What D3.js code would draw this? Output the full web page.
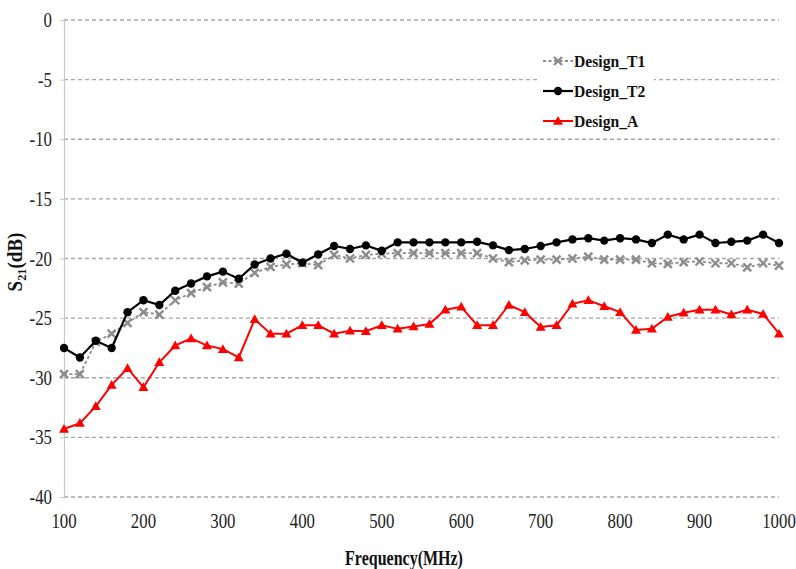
<!DOCTYPE html>
<html>
<head>
<meta charset="utf-8">
<script src="https://cdn.jsdelivr.net/npm/d3@7"></script>
<style>
  html, body { margin: 0; padding: 0; background: #fff; }
  svg { display: block; }
</style>
</head>
<body>
<svg id="chart" width="796" height="569" font-family="'Liberation Serif', 'Times New Roman', 'DejaVu Serif', serif"></svg>
<script>
// Frequency points (MHz)
const freq = [100, 120, 140, 160, 180, 200, 220, 240, 260, 280,
              300, 320, 340, 360, 380, 400, 420, 440, 460, 480,
              500, 520, 540, 560, 580, 600, 620, 640, 660, 680,
              700, 720, 740, 760, 780, 800, 820, 840, 860, 880,
              900, 920, 940, 960, 980, 1000];

// S21 (dB) for each design
const designT1 = [-29.7, -29.7, -27.0, -26.3, -25.4, -24.5, -24.7, -23.5, -22.9, -22.4,
                  -22.0, -22.1, -21.2, -20.7, -20.5, -20.4, -20.55, -19.7, -20.0, -19.7,
                  -19.6, -19.55, -19.55, -19.55, -19.55, -19.55, -19.55, -20.0, -20.3, -20.15,
                  -20.1, -20.1, -20.0, -19.85, -20.1, -20.1, -20.1, -20.4, -20.45, -20.3,
                  -20.25, -20.4, -20.4, -20.75, -20.4, -20.6];
const designT2 = [-27.5, -28.3, -26.9, -27.5, -24.5, -23.5, -23.9, -22.7, -22.1, -21.5,
                  -21.1, -21.7, -20.5, -20.0, -19.6, -20.35, -19.65, -18.95, -19.2, -18.9,
                  -19.35, -18.65, -18.65, -18.65, -18.65, -18.65, -18.6, -18.9, -19.3, -19.2,
                  -18.95, -18.65, -18.4, -18.3, -18.5, -18.3, -18.4, -18.7, -18.0, -18.4,
                  -18.0, -18.7, -18.6, -18.5, -18.0, -18.7];
const designA  = [-34.3, -33.8, -32.4, -30.6, -29.2, -30.8, -28.7, -27.3, -26.7, -27.3,
                  -27.6, -28.3, -25.1, -26.3, -26.3, -25.6, -25.6, -26.3, -26.05, -26.1,
                  -25.6, -25.9, -25.7, -25.5, -24.3, -24.05, -25.6, -25.6, -23.9, -24.5,
                  -25.75, -25.6, -23.8, -23.5, -24.0, -24.5, -26.0, -25.9, -24.9, -24.55,
                  -24.3, -24.3, -24.7, -24.3, -24.65, -26.3];

const seriesNames = ["Design_T1", "Design_T2", "Design_A"];
const xTicks = [100, 200, 300, 400, 500, 600, 700, 800, 900, 1000];
const yTicks = [0, -5, -10, -15, -20, -25, -30, -35, -40];

const svg = d3.select("#chart");

const x = d3.scaleLinear().domain([100, 1000]).range([64, 779]);
const y = d3.scaleLinear().domain([-40, 0]).range([497, 20]);

// Dashed horizontal grid
svg.append("g")
  .selectAll("line")
  .data(yTicks)
  .join("line")
  .attr("x1", x(100)).attr("x2", x(1000))
  .attr("y1", d => y(d)).attr("y2", d => y(d))
  .attr("stroke", "#a6a6a6")
  .attr("stroke-width", 1.3)
  .attr("stroke-dasharray", "4,3");

// Left axis line with small ticks
const yAxis = d3.axisLeft(y).tickValues(yTicks).tickSize(4).tickFormat("");
const yAxisG = svg.append("g").attr("transform", `translate(${x(100)},0)`).call(yAxis);
yAxisG.select(".domain").attr("stroke", "#c8c8c8").attr("stroke-width", 1.2);
yAxisG.selectAll(".tick line").attr("stroke", "#c8c8c8");

// Y tick labels
svg.append("g")
  .selectAll("text")
  .data(yTicks)
  .join("text")
  .attr("transform", d => `translate(52,${y(d) + 7}) scale(0.8,1)`)
  .attr("text-anchor", "end")
  .attr("font-size", 21)
  .attr("fill", "#222")
  .text(d => d);

// X tick labels
svg.append("g")
  .selectAll("text")
  .data(xTicks)
  .join("text")
  .attr("transform", d => `translate(${x(d)},${528}) scale(0.8,1)`)
  .attr("text-anchor", "middle")
  .attr("font-size", 21)
  .attr("fill", "#222")
  .text(d => d);

// Axis titles
svg.append("text")
  .attr("transform", "translate(404,565) scale(0.8,1)")
  .attr("text-anchor", "middle")
  .attr("font-size", 20)
  .attr("font-weight", "bold")
  .attr("fill", "#111")
  .text("Frequency(MHz)");

const yTitle = svg.append("text")
  .attr("transform", "translate(22,262) rotate(-90) scale(0.95,1)")
  .attr("text-anchor", "middle")
  .attr("font-size", 20)
  .attr("font-weight", "bold")
  .attr("fill", "#111");
yTitle.append("tspan").text("S");
yTitle.append("tspan").attr("font-size", 13).attr("dy", 4).text("21");
yTitle.append("tspan").attr("dy", -4).text("(dB)");

const line = d3.line().x((d, i) => x(freq[i])).y(d => y(d));

// Marker drawers
function crossMarker(g, cx, cy, r) {
  g.append("path")
    .attr("d", `M${cx - r},${cy - r}L${cx + r},${cy + r}M${cx - r},${cy + r}L${cx + r},${cy - r}`)
    .attr("stroke", "#8c8c8c").attr("stroke-width", 2.4).attr("fill", "none");
}
function dotMarker(g, cx, cy, r) {
  g.append("circle").attr("cx", cx).attr("cy", cy).attr("r", r).attr("fill", "#000");
}
function triMarker(g, cx, cy, r) {
  g.append("path")
    .attr("d", `M${cx},${cy - r}L${cx + r},${cy + r * 0.75}L${cx - r},${cy + r * 0.75}Z`)
    .attr("fill", "#ff0000");
}

const styles = [
  { data: designT1, color: "#8c8c8c", width: 1.8, dash: "3,2.5", marker: crossMarker, r: 4 },
  { data: designT2, color: "#000000", width: 2.2, dash: null, marker: dotMarker, r: 4.2 },
  { data: designA,  color: "#ff0000", width: 2.0, dash: null, marker: triMarker, r: 5 }
];

styles.forEach(s => {
  const g = svg.append("g");
  g.append("path")
    .datum(s.data)
    .attr("d", line)
    .attr("fill", "none")
    .attr("stroke", s.color)
    .attr("stroke-width", s.width)
    .attr("stroke-dasharray", s.dash);
  s.data.forEach((v, i) => s.marker(g, x(freq[i]), y(v), s.r));
});

// Legend
const legend = svg.append("g");
legend.append("rect")
  .attr("x", 538).attr("y", 46).attr("width", 116).attr("height", 88)
  .attr("fill", "#fff");
const rowY = [61, 91, 121];
seriesNames.forEach((name, i) => {
  const s = styles[i];
  const g = legend.append("g");
  g.append("line")
    .attr("x1", 543).attr("x2", 573)
    .attr("y1", rowY[i]).attr("y2", rowY[i])
    .attr("stroke", s.color).attr("stroke-width", s.width)
    .attr("stroke-dasharray", s.dash);
  s.marker(g, 558, rowY[i], s.r);
  g.append("text")
    .attr("transform", `translate(574,${rowY[i] + 6}) scale(0.92,1)`)
    .attr("font-size", 17)
    .attr("font-weight", "bold")
    .attr("fill", "#111")
    .text(name);
});
</script>
</body>
</html>
